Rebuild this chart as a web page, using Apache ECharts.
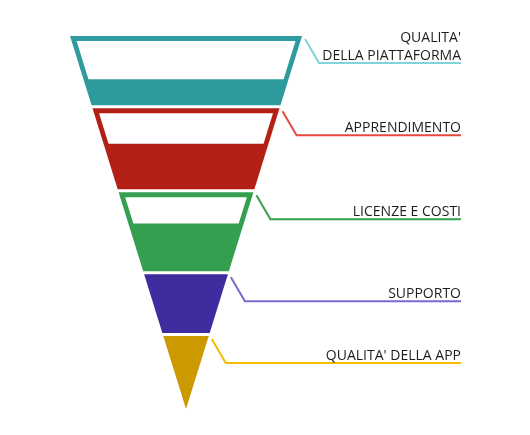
<!DOCTYPE html>
<html>
<head>
<meta charset="utf-8">
<script src="https://cdn.jsdelivr.net/npm/echarts@6/dist/echarts.min.js"></script>
<style>
html,body{margin:0;padding:0;background:#fff;}
#chart{width:530px;height:435px;}
</style>
</head>
<body>
<div id="chart"></div>
<script>
const categories = ["QUALITA'\nDELLA PIATTAFORMA", "APPRENDIMENTO", "LICENZE E COSTI", "SUPPORTO", "QUALITA' DELLA APP"];
const shares = [19, 22.5, 22, 16.5, 20];
const fillRatio = [0.39, 0.56, 0.6, 1, 1];
const colors = ['#2e9b9e', '#b52016', '#34a04f', '#3f2d9f', '#cc9900'];
const lineColors = ['#80d4dc', '#e54a3c', '#34a04f', '#7c68d4', '#f5bb00'];

const XMIN = -1, XMAX = 2.37;
let acc = 0;
const data = shares.map((s, i) => {
  const start = acc; acc += s;
  return [i, start, acc, fillRatio[i]];
});
const n = data.length;

function lerpX(a, b, y) { return a[0] + (b[0] - a[0]) * (y - a[1]) / (b[1] - a[1]); }

function renderItem(params, api) {
  const i = api.value(0), s = api.value(1), e = api.value(2), f = api.value(3);
  const last = i === n - 1;
  const gap = 1.5, border = 5;
  const tl = api.coord([-(1 - s / 100), s]);
  const tr = api.coord([1 - s / 100, s]);
  const bl = api.coord([-(1 - e / 100), e]);
  const br = api.coord([1 - e / 100, e]);
  const yTop = tl[1] + (i > 0 ? gap : 0);
  const yBot = bl[1] - (last ? 0 : gap);
  const outer = [[lerpX(tl, bl, yTop), yTop], [lerpX(tr, br, yTop), yTop], [lerpX(tr, br, yBot), yBot], [lerpX(tl, bl, yBot), yBot]];
  const children = [{
    type: 'polygon', shape: { points: outer }, style: { fill: colors[i] }
  }];
  if (f < 1) {
    const yi = yTop + border;
    const yf = api.coord([0, e - f * (e - s)])[1];
    children.push({
      type: 'polygon',
      shape: { points: [[lerpX(tl, bl, yi) + border, yi], [lerpX(tr, br, yi) - border, yi], [lerpX(tr, br, yf) - border, yf], [lerpX(tl, bl, yf) + border, yf]] },
      style: { fill: '#ffffff' }
    });
  }
  const labelX = api.coord([XMAX, 0])[0];
  const p0 = [outer[1][0] + 3, yTop + 3];
  const p1 = [p0[0] + 14, p0[1] + 24];
  const p2 = [labelX, p1[1]];
  children.push({
    type: 'polyline', shape: { points: [p0, p1, p2] },
    style: { stroke: lineColors[i], lineWidth: 2, fill: null }
  });
  children.push({
    type: 'text',
    style: {
      text: categories[i], x: labelX, y: p1[1] + 2,
      align: 'right', verticalAlign: 'bottom',
      font: '500 14px "Open Sans"', fill: '#1e1e1e', lineHeight: 18
    }
  });
  return { type: 'group', children };
}

const chart = echarts.init(document.getElementById('chart'), null, { renderer: 'canvas' });
chart.setOption({
  animation: false,
  backgroundColor: '#fff',
  grid: { left: 70, top: 36, width: 391, height: 373 },
  xAxis: { type: 'value', min: XMIN, max: XMAX, show: false },
  yAxis: { type: 'value', min: 0, max: 100, inverse: true, show: false },
  series: [{
    type: 'custom',
    renderItem: renderItem,
    data: data,
    clip: false
  }]
});
</script>
</body>
</html>
